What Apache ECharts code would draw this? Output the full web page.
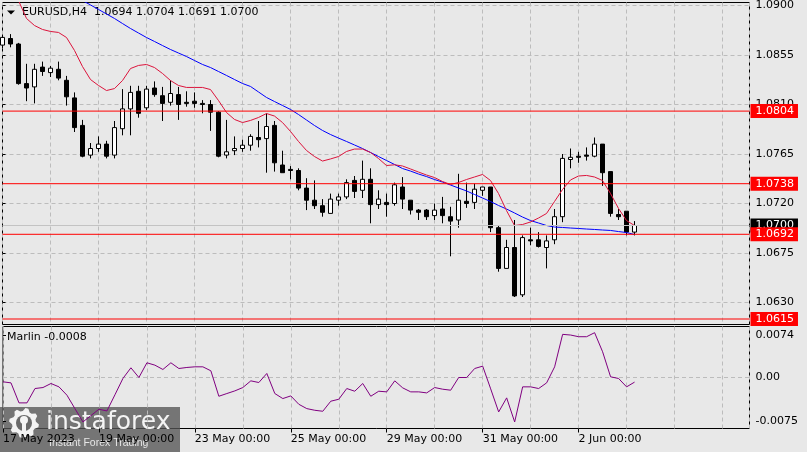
<!DOCTYPE html>
<html><head><meta charset="utf-8">
<script src="https://cdn.jsdelivr.net/npm/echarts@6/dist/echarts.min.js"></script>
<style>html,body{margin:0;padding:0;background:#e8e8e8;}#c{width:807px;height:452px;}</style>
</head><body><div id="c"></div><script>
// ---- data (EURUSD H4, 80 bars) ----
const opens = [1.0864,1.0870,1.0865,1.0829,1.0826,1.0844,1.0839,1.0842,1.0832,1.0816,
1.0791,1.0764,1.0770,1.0774,1.0764,1.0788,1.0806,1.0822,1.0807,1.0825,
1.0818,1.0812,1.0819,1.0812,1.0813,1.0811,1.0810,1.0803,1.0764,1.0768,
1.0770,1.0773,1.0780,1.0779,1.0791,1.0755,1.0751,1.0750,1.0734,1.0723,
1.0718,1.0711,1.0723,1.0726,1.0741,1.0732,1.0742,1.0719,1.0721,1.0720,
1.0735,1.0723,1.0714,1.0714,1.0709,1.0715,1.0708,1.0705,1.0722,1.0721,
1.0732,1.0735,1.0698,1.0661,1.0680,1.0637,1.0687,1.0687,1.0680,1.0687,
1.0708,1.0760,1.0763,1.0764,1.0763,1.0774,1.0749,1.0710,1.0713,1.0694];
const highs = [1.0873,1.0874,1.0866,1.0847,1.0847,1.0849,1.0845,1.0849,1.0836,1.0821,
1.0796,1.0775,1.0781,1.0777,1.0795,1.0824,1.0827,1.0827,1.0827,1.0831,
1.0826,1.0832,1.0826,1.0822,1.0821,1.0814,1.0814,1.0804,1.0796,1.0781,
1.0778,1.0783,1.0795,1.0802,1.0795,1.0768,1.0754,1.0752,1.0743,1.0741,
1.0724,1.0729,1.0729,1.0742,1.0745,1.0759,1.0752,1.0732,1.0729,1.0739,
1.0744,1.0723,1.0715,1.0715,1.0720,1.0726,1.0717,1.0747,1.0739,1.0738,
1.0735,1.0735,1.0700,1.0687,1.0705,1.0691,1.0698,1.0694,1.0691,1.0715,
1.0765,1.0770,1.0767,1.0771,1.0780,1.0774,1.0749,1.0715,1.0713,1.0704];
const lows = [1.0861,1.0862,1.0828,1.0813,1.0811,1.0836,1.0835,1.0832,1.0809,1.0785,
1.0762,1.0761,1.0767,1.0761,1.0761,1.0782,1.0782,1.0798,1.0805,1.0817,
1.0795,1.0809,1.0796,1.0808,1.0807,1.0802,1.0786,1.0762,1.0761,1.0764,
1.0767,1.0768,1.0771,1.0748,1.0749,1.0748,1.0742,1.0732,1.0714,1.0715,
1.0708,1.0711,1.0718,1.0724,1.0725,1.0725,1.0702,1.0715,1.0708,1.0718,
1.0715,1.0710,1.0705,1.0705,1.0705,1.0702,1.0672,1.0698,1.0716,1.0715,
1.0727,1.0694,1.0658,1.0661,1.0635,1.0635,1.0682,1.0680,1.0661,1.0683,
1.0703,1.0752,1.0757,1.0759,1.0762,1.0736,1.0708,1.0705,1.0691,1.0691];
const closes = [1.0871,1.0865,1.0829,1.0825,1.0842,1.0840,1.0843,1.0834,1.0817,1.0789,
1.0763,1.0770,1.0774,1.0763,1.0789,1.0806,1.0821,1.0802,1.0824,1.0819,
1.0811,1.0820,1.0810,1.0811,1.0811,1.0810,1.0803,1.0763,1.0767,1.0770,
1.0773,1.0781,1.0778,1.0790,1.0757,1.0748,1.0750,1.0734,1.0723,1.0718,
1.0712,1.0724,1.0726,1.0739,1.0731,1.0742,1.0719,1.0724,1.0719,1.0737,
1.0724,1.0714,1.0712,1.0708,1.0714,1.0709,1.0704,1.0723,1.0720,1.0733,
1.0735,1.0698,1.0661,1.0680,1.0636,1.0689,1.0686,1.0681,1.0686,1.0708,
1.0761,1.0762,1.0762,1.0763,1.0774,1.0748,1.0711,1.0708,1.0694,1.0700];
const redMA = [1.09318,1.09155,1.09045,1.08882,1.08818,1.08782,1.08764,1.08755,1.08709,1.08591,
1.08445,1.08327,1.08273,1.08227,1.08245,1.08318,1.08427,1.08455,1.08464,1.08436,
1.08382,1.08318,1.08273,1.08255,1.08255,1.08255,1.08236,1.08136,1.08027,1.07964,
1.07936,1.07955,1.07982,1.08018,1.07995,1.07936,1.07855,1.07764,1.07682,1.07627,
1.07586,1.07605,1.07627,1.07673,1.07695,1.07695,1.07664,1.07609,1.07545,1.07552,
1.07541,1.07514,1.07486,1.07459,1.07436,1.07400,1.07373,1.07391,1.07418,1.07441,
1.07464,1.07409,1.07291,1.07136,1.07000,1.07009,1.07032,1.07068,1.07109,1.07218,
1.07327,1.07414,1.07450,1.07455,1.07441,1.07409,1.07291,1.07155,1.07045,1.07000];
const blueMA = [1.09409,1.09373,1.09336,1.09300,1.09264,1.09227,1.09191,1.09155,1.09118,1.09082,
1.09045,1.09005,1.08964,1.08923,1.08882,1.08836,1.08791,1.08750,1.08709,1.08673,
1.08636,1.08600,1.08568,1.08536,1.08500,1.08464,1.08436,1.08400,1.08364,1.08327,
1.08291,1.08264,1.08214,1.08164,1.08127,1.08091,1.08055,1.08009,1.07959,1.07909,
1.07864,1.07827,1.07795,1.07764,1.07732,1.07700,1.07664,1.07627,1.07591,1.07555,
1.07518,1.07495,1.07468,1.07445,1.07418,1.07395,1.07368,1.07341,1.07314,1.07282,
1.07250,1.07218,1.07182,1.07150,1.07114,1.07077,1.07045,1.07023,1.07000,1.06986,
1.06982,1.06977,1.06973,1.06968,1.06964,1.06959,1.06955,1.06945,1.06936,1.06918];
const marlin = [-0.00075,-0.00093,-0.00440,-0.00440,-0.00191,-0.00174,-0.00104,-0.00162,-0.00307,-0.00540,
-0.00770,-0.00660,-0.00550,-0.00580,-0.00300,-0.00017,0.00168,0.00000,0.00255,0.00214,
0.00139,0.00255,0.00156,0.00174,0.00185,0.00185,0.00116,-0.00325,-0.00278,-0.00232,
-0.00174,-0.00058,-0.00087,0.00070,-0.00278,-0.00365,-0.00319,-0.00464,-0.00539,-0.00568,
-0.00585,-0.00411,-0.00377,-0.00191,-0.00238,-0.00104,-0.00325,-0.00238,-0.00249,-0.00058,
-0.00180,-0.00249,-0.00249,-0.00267,-0.00174,-0.00203,-0.00220,0.00000,0.00000,0.00156,
0.00197,-0.00197,-0.00597,-0.00353,-0.00771,-0.00162,-0.00162,-0.00191,-0.00093,0.00185,
0.00748,0.00736,0.00707,0.00707,0.00777,0.00446,0.00012,-0.00017,-0.00162,-0.0008];
const priceTicks = [1.0630,1.0675,1.0720,1.0765,1.0810,1.0855,1.0900];
const levelLines = [1.0804,1.0738,1.0692,1.0615];
const bidPrice = 1.0700;
const marlinTicks = [-0.0075,0,0.0074];
const timeTickIdx = [0,12,24,36,48,60,72];
const timeTickText = ['17 May 2023','19 May 00:00','23 May 00:00','25 May 00:00','29 May 00:00','31 May 00:00','2 Jun 00:00'];
const gridStep = 6;

const FONT = 'DejaVu Sans';
const candles = opens.map((o,i)=>[i,o,closes[i],lows[i],highs[i]]);
const pair = arr => arr.map((v,i)=>[i,v]);
const XMAX = 93.375;
const dash = {color:'#bcbcbc', type:[4,3], width:1};

function levelSeries(v, lineColor, boxColor){
  return {type:'line', xAxisIndex:0, yAxisIndex:0, data:[[0,v],[XMAX,v]], symbol:'none', silent:true,
    lineStyle:{color:lineColor, width:1, type:'solid'},
    endLabel:{show:true, distance:1, formatter:()=>v.toFixed(4), color:'#fff', backgroundColor:boxColor,
      padding:[2,4,1,5], fontFamily:FONT, fontSize:11}};
}
function gear(cx,cy,ro,ri,n){const p=[];const m=n*4;for(let i=0;i<m;i++){const a=(i+0.5)/m*2*Math.PI;const r=(i%4<2)?ro:ri;p.push([cx+r*Math.cos(a),cy+r*Math.sin(a)]);}return p;}

const chart = echarts.init(document.getElementById('c'), null, {width:807,height:452});
chart.setOption({
  animation:false,
  backgroundColor:'#e8e8e8',
  grid:[
    {left:2.5, top:2.5, width:747, height:322, show:true, borderColor:'#000', borderWidth:1, backgroundColor:'transparent'},
    {left:2.5, top:326.5, width:747, height:102, show:true, borderColor:'#000', borderWidth:1, backgroundColor:'transparent'}
  ],
  xAxis:[
    {gridIndex:0, type:'value', min:0, max:XMAX, interval:gridStep, axisLine:{show:false}, axisTick:{show:false}, axisLabel:{show:false}, splitLine:{show:true, lineStyle:dash}},
    {gridIndex:1, type:'value', min:0, max:XMAX, interval:gridStep, axisLine:{show:false}, axisTick:{show:false}, axisLabel:{show:false}, splitLine:{show:true, lineStyle:dash}},
    {gridIndex:1, type:'value', min:0, max:XMAX, position:'bottom', axisLine:{show:false},
     axisTick:{show:true, customValues:timeTickIdx, length:4, lineStyle:{color:'#000'}},
     axisLabel:{show:true, customValues:timeTickIdx, align:'left', margin:5, color:'#000', fontFamily:FONT, fontSize:11,
       formatter:v=>{const i=timeTickIdx.indexOf(Math.round(v));return i>=0?timeTickText[i]:'';}},
     splitLine:{show:false}}
  ],
  yAxis:[
    {gridIndex:0, type:'value', position:'right', min:1.0610, max:1.09027, axisLine:{show:false},
     axisTick:{show:true, customValues:priceTicks, length:3, lineStyle:{color:'#000'}},
     axisLabel:{customValues:priceTicks, margin:6, color:'#000', fontFamily:FONT, fontSize:11, formatter:v=>v.toFixed(4)},
     splitLine:{show:true, lineStyle:dash}},
    {gridIndex:1, type:'value', position:'right', min:-0.00884, max:0.00884, axisLine:{show:false},
     axisTick:{show:true, customValues:marlinTicks, length:3, lineStyle:{color:'#000'}},
     axisLabel:{customValues:marlinTicks, margin:6, color:'#000', fontFamily:FONT, fontSize:11, formatter:v=>Math.abs(v)<1e-9?'0.00':v.toFixed(4)},
     splitLine:{show:false}}
  ],
  series:[
    {type:'candlestick', xAxisIndex:0, yAxisIndex:0, data:candles, barWidth:5,
     itemStyle:{color:'#ffffff', color0:'#000000', borderColor:'#000000', borderColor0:'#000000', borderWidth:1}},
    {type:'line', xAxisIndex:0, yAxisIndex:0, data:pair(blueMA), symbol:'none', lineStyle:{color:'#0000ff', width:1}, silent:true},
    {type:'line', xAxisIndex:0, yAxisIndex:0, data:pair(redMA), symbol:'none', lineStyle:{color:'#dc143c', width:1}, silent:true},
    levelSeries(bidPrice, '#c3c3c3', '#000000')
  ].concat(levelLines.map(v=>levelSeries(v, '#ff0000', '#ff0000'))).concat([
    {type:'line', xAxisIndex:1, yAxisIndex:1, data:pair(marlin), symbol:'none', lineStyle:{color:'#800080', width:1}, silent:true},
    {type:'line', xAxisIndex:1, yAxisIndex:1, data:[[0,0],[XMAX,0]], symbol:'none', silent:true, lineStyle:dash, z:1}
  ]),
  graphic:[
    {type:'polygon', shape:{points:[[7,10.5],[15,10.5],[11,14.5]]}, style:{fill:'#000'}},
    {type:'text', x:22, y:12.5, style:{text:'EURUSD,H4', fill:'#000', fontFamily:FONT, fontSize:11, verticalAlign:'middle'}},
    {type:'text', x:94, y:12.5, style:{text:'1.0694 1.0704 1.0691 1.0700', fill:'#000', fontFamily:FONT, fontSize:11, verticalAlign:'middle'}},
    {type:'text', x:7, y:337, style:{text:'Marlin -0.0008', fill:'#000', fontFamily:FONT, fontSize:11, verticalAlign:'middle'}},
    {type:'group', z:100, children:[
      {type:'rect', shape:{x:0,y:407,width:180,height:45}, style:{fill:'rgba(85,85,85,0.78)'}},
      {type:'polygon', shape:{points:gear(24,423,15,12,8)}, style:{fill:'#f4f4f4'}},
      {type:'circle', shape:{cx:24,cy:423,r:8}, style:{fill:'#6a6a6a'}},
      {type:'circle', shape:{cx:24,cy:420,r:4}, style:{fill:'#f4f4f4'}},
      {type:'rect', shape:{x:22,y:422,width:4,height:15}, style:{fill:'#f4f4f4'}},
      {type:'text', x:46, y:422, style:{text:'instaforex', fill:'#f4f4f4', fontFamily:FONT, fontSize:25, verticalAlign:'middle'}},
      {type:'text', x:49, y:443, style:{text:'Instant Forex Trading', fill:'#e6e6e6', fontFamily:'Liberation Sans', fontSize:10.5, verticalAlign:'middle'}}
    ]}
  ]
});
</script></body></html>
